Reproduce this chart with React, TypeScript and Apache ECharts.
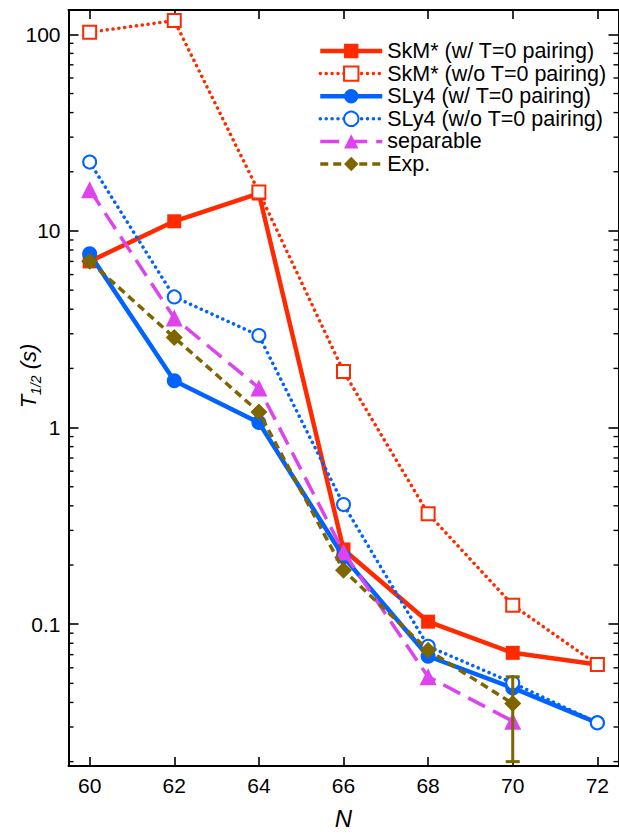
import React, { useEffect, useRef } from "react";
import * as echarts from "echarts";

// ---- data ----
const nValues = [60, 62, 64, 66, 68, 70, 72];
const skmWith = [7.0, 11.2, 15.5, 0.24, 0.103, 0.0715, 0.0623];
const skmWithout = [102.5, 117.5, 15.8, 1.93, 0.365, 0.125, 0.0623];
const slyWith = [7.65, 1.73, 1.06, 0.22, 0.0687, 0.0474, 0.0315];
const slyWithout = [22.4, 4.62, 2.94, 0.406, 0.0772, 0.0503, 0.0315];
const sepN = [60, 62, 64, 66, 68, 70];
const separable = [16.2, 3.61, 1.59, 0.233, 0.054, 0.0321];
const expN = [60, 62, 64, 66, 68, 70];
const expValues = [7.01, 2.87, 1.2, 0.188, 0.0737, 0.0395];
const expErrN = [70];
const expErrLow = [0.02];
const expErrHigh = [0.054];

const xTickValues = [60, 62, 64, 66, 68, 70, 72];
const yMinorTicks = [
  0.02, 0.03, 0.04, 0.05, 0.06, 0.07, 0.08, 0.09,
  0.2, 0.3, 0.4, 0.5, 0.6, 0.7, 0.8, 0.9,
  2, 3, 4, 5, 6, 7, 8, 9,
  20, 30, 40, 50, 60, 70, 80, 90,
];

const legendNames = [
  "SkM* (w/ T=0 pairing)",
  "SkM* (w/o T=0 pairing)",
  "SLy4 (w/ T=0 pairing)",
  "SLy4 (w/o T=0 pairing)",
  "separable",
  "Exp.",
];

const X_MIN = 59.5;
const X_MAX = 72.5;
const Y_MIN = 0.019;
const Y_MAX = 133;

const RED = "#ff2a00";
const BLUE = "#0062ff";
const MAGENTA = "#dd44ee";
const OLIVE = "#7d6600";
const FONT = "Liberation Sans, Arial, Helvetica, sans-serif";

const zip = (xs: number[], ys: number[]) => xs.map((x, i) => [x, ys[i]]);

export default function App() {
  const ref = useRef<HTMLDivElement>(null);
  useEffect(() => {
    if (!ref.current) return;
    const chart = echarts.init(ref.current, undefined, { renderer: "svg" });

    const yLabelFormatter = (v: number) => {
      const l = Math.log10(v);
      if (Math.abs(l - Math.round(l)) > 1e-6) return "";
      const p = Math.round(l);
      return p >= 0 ? String(Math.pow(10, p)) : "0." + "0".repeat(-p - 1) + "1";
    };

    const commonYAxis = {
      type: "log",
      logBase: 10,
      min: Y_MIN,
      max: Y_MAX,
      splitLine: { show: false },
      axisLine: { show: true, lineStyle: { color: "#000", width: 2 } },
      axisTick: { show: true, inside: true, length: 10, lineStyle: { color: "#000", width: 1.6 } },
    };
    const commonXAxis = {
      type: "value",
      min: X_MIN,
      max: X_MAX,
      splitLine: { show: false },
      axisLine: { show: true, lineStyle: { color: "#000", width: 2 } },
      axisTick: {
        show: true,
        inside: true,
        length: 9,
        customValues: xTickValues,
        lineStyle: { color: "#000", width: 1.6 },
      },
    };

    const option: any = {
      animation: false,
      backgroundColor: "#fff",
      textStyle: { fontFamily: FONT },
      grid: { left: 68.5, top: 10, width: 550, height: 756, containLabel: false, outerBoundsMode: "none" },
      legend: {
        data: legendNames,
        orient: "vertical",
        left: 313,
        top: 35,
        padding: 5,
        itemWidth: 62,
        itemHeight: 18,
        itemGap: 0.6,
        lineStyle: { width: "inherit" },
        itemStyle: { borderWidth: "inherit" },
        textStyle: { fontSize: 21.5, fontFamily: FONT, color: "#000", lineHeight: 18 },
      },
      xAxis: [
        {
          ...commonXAxis,
          position: "bottom",
          name: "N",
          nameLocation: "middle",
          nameGap: 40,
          nameMoveOverlap: false,
          nameTextStyle: { fontSize: 24, fontStyle: "italic", color: "#000", fontFamily: FONT },
          axisLabel: {
            show: true,
            customValues: xTickValues,
            fontSize: 21,
            color: "#000",
            margin: 9,
            fontFamily: FONT,
          },
        },
        {
          ...commonXAxis,
          position: "top",
          axisLabel: { show: false },
        },
      ],
      yAxis: [
        {
          ...commonYAxis,
          position: "left",
          name: "{a|T}{b|1/2}{c| (s)}",
          nameLocation: "middle",
          nameRotate: 90,
          nameGap: 26,
          nameMoveOverlap: false,
          nameTextStyle: {
            color: "#000",
            padding: [0, 0, 0, 24],
            rich: {
              a: { fontSize: 22, fontStyle: "italic", fontFamily: FONT, lineHeight: 22, padding: [0, 0, 3, 0], verticalAlign: "bottom", color: "#000" },
              b: { fontSize: 14, fontStyle: "italic", fontFamily: FONT, lineHeight: 14, verticalAlign: "bottom", color: "#000" },
              c: { fontSize: 22, fontStyle: "italic", fontFamily: FONT, lineHeight: 22, padding: [0, 0, 3, 0], verticalAlign: "bottom", color: "#000" },
            },
          },
          axisLabel: {
            show: true,
            fontSize: 21,
            color: "#000",
            margin: 8,
            fontFamily: FONT,
            showMinLabel: false,
            showMaxLabel: false,
            formatter: yLabelFormatter,
          },
        },
        {
          ...commonYAxis,
          position: "right",
          axisLabel: { show: false },
        },
      ],
      series: [
        {
          type: "custom",
          name: "minorTicks",
          silent: true,
          clip: false,
          data: yMinorTicks.map((v) => [60, v]),
          encode: { x: 0, y: 1 },
          renderItem: (params: any, api: any) => {
            const v = api.value(1);
            const p = api.coord([60, v]);
            const cs = params.coordSys;
            const xl = cs.x;
            const xr = cs.x + cs.width;
            return {
              type: "group",
              children: [
                { type: "line", shape: { x1: xl, y1: p[1], x2: xl + 5, y2: p[1] }, style: { stroke: "#000", lineWidth: 1.4 } },
                { type: "line", shape: { x1: xr, y1: p[1], x2: xr - 5, y2: p[1] }, style: { stroke: "#000", lineWidth: 1.4 } },
              ],
            };
          },
          z: 1,
        },
        {
          type: "line",
          name: legendNames[0],
          data: zip(nValues, skmWith),
          symbol: "rect",
          symbolSize: 14,
          itemStyle: { color: RED },
          lineStyle: { color: RED, width: 4.5 },
          z: 2,
        },
        {
          type: "line",
          name: legendNames[1],
          data: zip(nValues, skmWithout),
          symbol: "emptyRect",
          symbolSize: 13,
          itemStyle: { color: RED, borderColor: RED, borderWidth: 2.5 },
          lineStyle: { color: RED, width: 3.5, type: [0.1, 5.8], cap: "round" },
          z: 3,
        },
        {
          type: "line",
          name: legendNames[2],
          data: zip(nValues, slyWith),
          symbol: "circle",
          symbolSize: 15,
          itemStyle: { color: BLUE },
          lineStyle: { color: BLUE, width: 4.5 },
          z: 4,
        },
        {
          type: "line",
          name: legendNames[3],
          data: zip(nValues, slyWithout),
          symbol: "emptyCircle",
          symbolSize: 13,
          itemStyle: { color: BLUE, borderColor: BLUE, borderWidth: 2.5 },
          lineStyle: { color: BLUE, width: 3.5, type: [0.1, 5.8], cap: "round" },
          z: 5,
        },
        {
          type: "line",
          name: legendNames[4],
          data: zip(sepN, separable),
          symbol: "triangle",
          symbolSize: 17,
          itemStyle: { color: MAGENTA },
          lineStyle: { color: MAGENTA, width: 3.5, type: [19, 9] },
          z: 6,
        },
        {
          type: "custom",
          name: "expError",
          silent: true,
          data: expErrN.map((n, i) => [n, expErrLow[i], expErrHigh[i]]),
          encode: { x: 0, y: [1, 2] },
          renderItem: (params: any, api: any) => {
            const x = api.value(0);
            const lo = api.coord([x, api.value(1)]);
            const hi = api.coord([x, api.value(2)]);
            const hw = 7;
            const st = { stroke: OLIVE, lineWidth: 3 };
            return {
              type: "group",
              children: [
                { type: "line", shape: { x1: lo[0], y1: lo[1], x2: hi[0], y2: hi[1] }, style: st },
                { type: "line", shape: { x1: lo[0] - hw, y1: lo[1], x2: lo[0] + hw, y2: lo[1] }, style: st },
                { type: "line", shape: { x1: hi[0] - hw, y1: hi[1], x2: hi[0] + hw, y2: hi[1] }, style: st },
              ],
            };
          },
          z: 7,
        },
        {
          type: "line",
          name: legendNames[5],
          data: zip(expN, expValues),
          symbol: "diamond",
          symbolSize: 17,
          itemStyle: { color: OLIVE },
          lineStyle: { color: OLIVE, width: 3.5, type: [8, 5] },
          z: 8,
        },
      ],
    };

    chart.setOption(option);
    return () => chart.dispose();
  }, []);

  return (
    <div
      ref={ref}
      style={{ position: "fixed", left: 0, top: 0, width: 619, height: 834, background: "#fff" }}
    />
  );
}
